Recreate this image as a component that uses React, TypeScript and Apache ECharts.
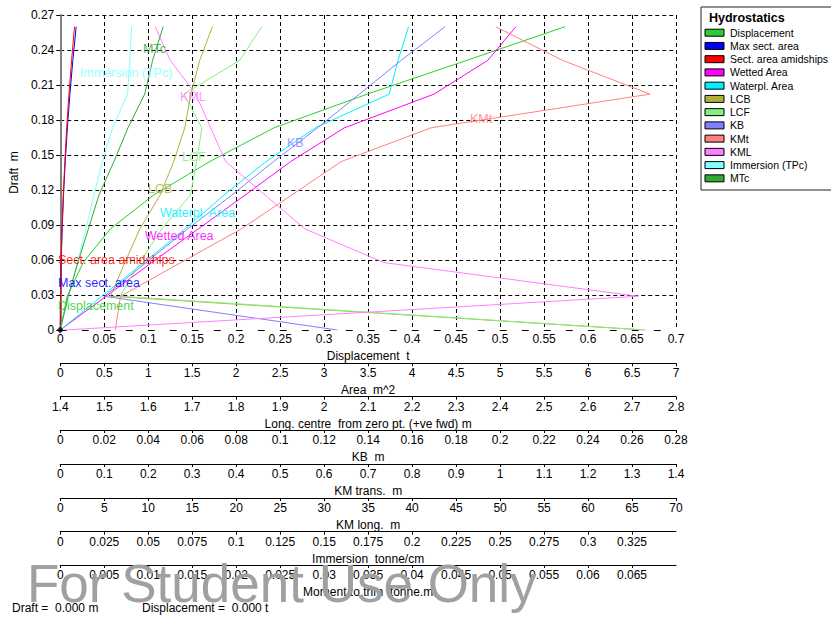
import React, { useEffect, useRef } from 'react';
import * as echarts from 'echarts';

// Hydrostatic curves of the hull, each property against draft (m)
const drafts = [0, 0.0289, 0.0578, 0.0867, 0.1156, 0.1444, 0.1733, 0.2022, 0.2311, 0.26];

const displacement = [0, 0.008, 0.026, 0.057, 0.106, 0.17, 0.243, 0.349, 0.462, 0.574];
const maxSectArea = [0, 0.003, 0.01, 0.022, 0.037, 0.057, 0.081, 0.11, 0.143, 0.181];
const sectAreaAmidships = [0, 0.003, 0.009, 0.02, 0.034, 0.052, 0.073, 0.099, 0.129, 0.162];
const wettedArea = [0, 0.52, 1.04, 1.57, 2.1, 2.62, 3.23, 4.25, 4.86, 5.18];
const waterplaneArea = [0, 0.47, 0.95, 1.42, 1.86, 2.34, 2.9, 3.74, 3.84, 3.96];
const lcb = [2.73, 1.514, 1.547, 1.581, 1.627, 1.658, 1.683, 1.697, 1.717, 1.746];
const lcf = [2.73, 1.536, 1.581, 1.631, 1.696, 1.71, 1.722, 1.681, 1.808, 1.858];
const kb = [0.126, 0.02, 0.039, 0.058, 0.078, 0.097, 0.117, 0.136, 0.155, 0.175];
const kmt = [0.125, 0.137, 0.274, 0.412, 0.526, 0.639, 0.843, 1.341, 1.142, 0.99];
const kml = [0.45, 65.7, 36.8, 27.8, 23.3, 18.8, 17.1, 15.4, 12.5, 10.8];
const tpc = [0, 0.0048, 0.0097, 0.0146, 0.0191, 0.024, 0.0297, 0.0383, 0.0395, 0.0406];
const mtc = [0, 0.0009, 0.002, 0.0032, 0.0044, 0.0061, 0.0077, 0.0096, 0.0105, 0.0117];

const seriesNames = [
  'Displacement', 'Max sect. area', 'Sect. area amidships', 'Wetted Area', 'Waterpl. Area',
  'LCB', 'LCF', 'KB', 'KMt', 'KML', 'Immersion (TPc)', 'MTc',
];
const seriesValues = [
  displacement, maxSectArea, sectAreaAmidships, wettedArea, waterplaneArea,
  lcb, lcf, kb, kmt, kml, tpc, mtc,
];
// which horizontal scale each curve is read against
const seriesScale = [0, 1, 1, 1, 1, 2, 2, 3, 4, 5, 6, 7];

// horizontal scales stacked under the plot
const scaleNames = [
  'Displacement  t', 'Area  m^2', 'Long. centre  from zero pt. (+ve fwd) m', 'KB  m',
  'KM trans.  m', 'KM long.  m', 'Immersion  tonne/cm', 'Moment to trim  tonne.m',
];
const scaleMin = [0, 0, 1.4, 0, 0, 0, 0, 0];
const scaleMax = [0.7, 7, 2.8, 0.28, 1.4, 70, 0.35, 0.07];
const scaleStep = [0.05, 0.5, 0.1, 0.02, 0.1, 5, 0.025, 0.005];
const scaleShowLast = [true, true, true, true, true, true, false, false];

// draft axis
const draftMin = 0;
const draftMax = 0.27;
const draftStep = 0.03;

// current condition read-out
const currentDraft = 0;
const currentDisplacement = 0;

const colors = [
  '#2ecc2e', '#0000ff', '#ff0000', '#ff00ff', '#00f0ff', '#b0b040',
  '#80f080', '#8080ff', '#ff8080', '#ff80ff', '#80ffff', '#33a833',
];

// in-plot curve captions: [series index, left, middle]
const captions: [number, number, number][] = [
  [11, 143, 49],
  [10, 80, 73],
  [9, 180, 97],
  [8, 470, 119],
  [7, 287, 143],
  [6, 182, 157],
  [5, 148, 189],
  [4, 160, 213],
  [3, 145, 236],
  [2, 58, 260],
  [1, 58, 283],
  [0, 58, 306],
];

const FONT = 'Liberation Sans, Arial, Helvetica, sans-serif';

export default function App() {
  const ref = useRef<HTMLDivElement>(null);

  useEffect(() => {
    document.body.style.margin = '0';
    if (!ref.current) return;
    const chart = echarts.init(ref.current, null, { renderer: 'svg' });

    const offsets = [0, 33.3, 66.7, 100, 134, 168, 201.7, 235];

    const xAxes = scaleNames.map((name, i) => ({
      type: 'value',
      gridIndex: 0,
      position: 'bottom',
      offset: offsets[i],
      min: scaleMin[i],
      max: scaleMax[i],
      interval: scaleStep[i],
      name,
      nameLocation: 'middle',
      nameGap: 17,
      nameTextStyle: { color: '#000', fontSize: 12, fontFamily: FONT },
      axisLine: i === 0
        ? { show: true, lineStyle: { color: '#000', width: 1, type: [6, 16] } }
        : { show: true, lineStyle: { color: '#000', width: 1 } },
      axisTick: i === 0
        ? { show: false }
        : { show: true, length: 3, lineStyle: { color: '#000' } },
      axisLabel: {
        show: true,
        margin: i === 0 ? 3 : 4,
        color: '#000',
        fontSize: 12,
        fontFamily: FONT,
        showMaxLabel: scaleShowLast[i],
        hideOverlap: false,
      },
      splitLine: i === 0
        ? { show: true, lineStyle: { color: '#000', width: 1, type: [4, 3] } }
        : { show: false },
    }));

    const series: any[] = seriesValues.map((vals, i) => ({
      type: 'line',
      name: seriesNames[i],
      xAxisIndex: seriesScale[i],
      yAxisIndex: 0,
      data: vals.map((v, j) => [v, drafts[j]]),
      showSymbol: false,
      symbol: 'none',
      silent: true,
      lineStyle: { width: 1, color: colors[i] },
      itemStyle: { color: colors[i] },
    }));

    series.push({
      type: 'scatter',
      xAxisIndex: 0,
      yAxisIndex: 0,
      data: [[currentDisplacement, currentDraft]],
      symbol: 'diamond',
      symbolSize: 7,
      itemStyle: { color: '#000' },
      silent: true,
      z: 5,
    });

    const legendRows = seriesNames.map((name, i) => {
      const cy = 32.7 + i * 13.24;
      return [
        {
          type: 'rect',
          shape: { x: 705, y: cy - 3.5, width: 19, height: 7 },
          style: { fill: colors[i], stroke: '#000', lineWidth: 1 },
        },
        {
          type: 'text',
          x: 730,
          y: cy,
          style: {
            text: name,
            fill: '#000',
            font: `10.5px ${FONT}`,
            verticalAlign: 'middle',
            align: 'left',
          },
        },
      ];
    }).flat();

    const captionTexts = captions.map(([idx, x, y]) => ({
      type: 'text',
      x,
      y,
      silent: true,
      z: 10,
      style: {
        text: seriesNames[idx],
        fill: colors[idx],
        opacity: 0.85,
        font: `12.5px ${FONT}`,
        verticalAlign: 'middle',
        align: 'left',
      },
    }));

    chart.setOption({
      animation: false,
      backgroundColor: '#fff',
      textStyle: { fontFamily: FONT },
      grid: { left: 58, top: 15, width: 618, height: 315, containLabel: false },
      xAxis: xAxes,
      yAxis: [{
        type: 'value',
        min: draftMin,
        max: draftMax,
        interval: draftStep,
        name: 'Draft  m',
        nameLocation: 'middle',
        nameRotate: 90,
        nameGap: 34,
        nameTextStyle: { color: '#000', fontSize: 12, fontFamily: FONT },
        axisLine: { show: true, lineStyle: { color: '#808080', width: 2 } },
        axisTick: { show: true, length: 4, lineStyle: { color: '#000' } },
        axisLabel: {
          margin: 6,
          color: '#000',
          fontSize: 12,
          fontFamily: FONT,
          formatter: (v: number) => (v === 0 ? '0' : v.toFixed(2)),
        },
        splitLine: {
          show: true,
          showMinLine: false,
          lineStyle: { color: '#000', width: 1, type: [4, 3] },
        },
      }],
      series,
      graphic: [
        {
          type: 'group',
          children: [
            {
              type: 'rect',
              shape: { x: 701, y: 7, width: 140, height: 183 },
              style: { fill: '#fff', stroke: '#222', lineWidth: 1 },
            },
            {
              type: 'text',
              x: 709,
              y: 18,
              style: {
                text: 'Hydrostatics',
                fill: '#000',
                font: `bold 12.5px ${FONT}`,
                verticalAlign: 'middle',
              },
            },
            ...legendRows,
          ],
        },
        ...captionTexts,
        {
          type: 'text',
          x: 12,
          y: 608,
          style: {
            text: `Draft =  ${currentDraft.toFixed(3)} m`,
            fill: '#000',
            font: `12px ${FONT}`,
            verticalAlign: 'middle',
          },
        },
        {
          type: 'text',
          x: 142,
          y: 608,
          style: {
            text: `Displacement =  ${currentDisplacement.toFixed(3)} t`,
            fill: '#000',
            font: `12px ${FONT}`,
            verticalAlign: 'middle',
          },
        },
        {
          type: 'text',
          x: 27,
          y: 583,
          z: 100,
          silent: true,
          style: {
            text: 'For Student Use Only',
            fill: '#a0a0a0',
            font: `53px ${FONT}`,
            verticalAlign: 'middle',
          },
        },
      ],
    });

    return () => chart.dispose();
  }, []);

  return <div ref={ref} style={{ width: 831, height: 618 }} />;
}
